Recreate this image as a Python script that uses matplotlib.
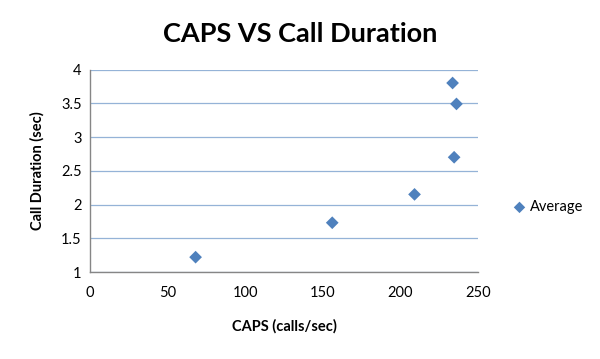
import matplotlib
matplotlib.use("Agg")
import matplotlib.pyplot as plt

# data
caps = [68, 156, 209, 234.5, 236, 233.5]
duration = [1.22, 1.73, 2.15, 2.70, 3.49, 3.80]
series_name = "Average"

x_ticks = [0, 50, 100, 150, 200, 250]
y_ticks = [1, 1.5, 2, 2.5, 3, 3.5, 4]
y_labels = ["1", "1.5", "2", "2.5", "3", "3.5", "4"]

plt.rcParams["font.family"] = ["Lato", "DejaVu Sans"]

fig = plt.figure(figsize=(6.0, 3.59), dpi=100, facecolor="white")
ax = fig.add_axes([0.15, 0.2423, 0.647, 0.5641])

ax.scatter(caps, duration, marker="D", s=42, color="#4F81BD",
           edgecolors="none", zorder=3, label=series_name)

ax.set_xlim(0, 250)
ax.set_ylim(1, 4)
ax.set_xticks(x_ticks)
ax.set_yticks(y_ticks)
ax.set_yticklabels(y_labels)
ax.tick_params(length=0, labelsize=10.5, pad=10, colors="#000000")
ax.tick_params(axis="y", pad=6)

ax.grid(axis="y", color="#95B3D7", linewidth=0.9, zorder=0)
for side in ["top", "right"]:
    ax.spines[side].set_visible(False)
for side in ["left", "bottom"]:
    ax.spines[side].set_color("#868686")
    ax.spines[side].set_linewidth(1.0)

ax.set_xlabel("CAPS (calls/sec)", fontsize=10.5, fontweight="bold", labelpad=14)
ax.set_ylabel("Call Duration (sec)", fontsize=10.5, fontweight="bold", labelpad=12)
fig.text(0.5, 0.905, "CAPS VS Call Duration", ha="center", va="center",
         fontsize=19.5, fontweight="bold")

ax.legend(loc="center left", bbox_to_anchor=(1.035, 0.32), frameon=False,
          fontsize=10.5, handletextpad=-0.3, markerscale=0.9)

fig.savefig("out.png", dpi=100, facecolor="white")
